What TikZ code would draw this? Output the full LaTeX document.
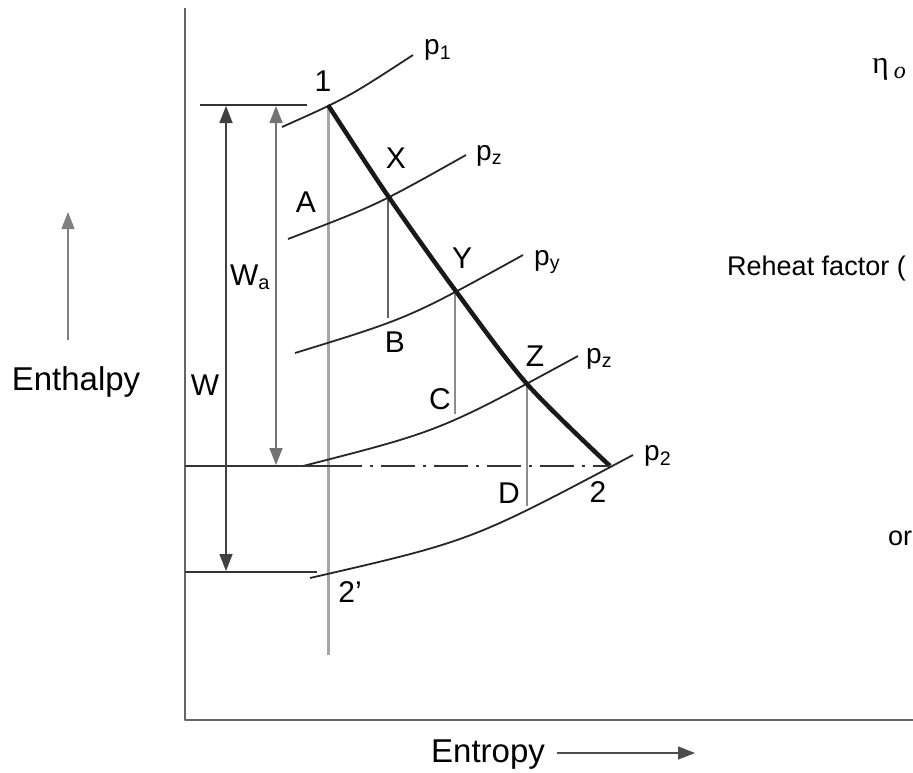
\documentclass[tikz,border=0pt]{standalone}
\usepackage{fontspec}
\setmainfont{Liberation Sans}
\newfontfamily\grk{Liberation Serif}
\usetikzlibrary{arrows.meta}

\begin{document}
\begin{tikzpicture}[x=1pt, y=-1pt, line join=round, >={Triangle[width=13pt,length=17pt]},
	isobar/.style={line width=1.8pt, black!85},
	drop/.style={line width=1.6pt, black!45},
	lbl/.style={inner sep=0pt, font=\fontsize{30}{32}\selectfont},
	plbl/.style={inner sep=0pt, anchor=west, font=\fontsize{28}{30}\selectfont},
	axlbl/.style={inner sep=0pt, font=\fontsize{33}{36}\selectfont}]
	\useasboundingbox (0,0) rectangle (913,772);
	\clip (0,0) rectangle (913,772);

	% Points of the expansion
	\coordinate (p1) at (328,105);
	\coordinate (x) at (388,196);
	\coordinate (y) at (455,290);
	\coordinate (z) at (527,384);
	\coordinate (p2) at (610,466);
	\coordinate (b) at (388,318);
	\coordinate (c) at (455,414);
	\coordinate (d) at (527,506);
	\coordinate (p2s) at (328,573);

	% Axes
	\draw[line width=2.5pt, black!60] (185,8) -- (185,720) -- (913,720);

	% Isentrope from 1
	\draw[line width=3pt, black!35] (p1) -- (328,655);

	% Isobars
	\draw[isobar] (282,127) .. controls (347,98) .. (413,55);
	\draw[isobar] (288,239) .. controls (377,205) .. (466,155);
	\draw[isobar] (295,353) .. controls (409,318) .. (523,255);
	\draw[isobar] (303,466) .. controls (440,431) .. (578,356);
	\draw[isobar] (310,578) .. controls (471,541) .. (633,455);

	% Drops at each stage
	\draw[drop, black!60] (x) -- (b);
	\draw[drop] (y) -- (c);
	\draw[drop] (z) -- (d);

	% Actual expansion 1-2
	\draw[line width=4.5pt, black!90] plot[smooth] coordinates {(p1) (x) (y) (z) (p2)};

	% Reference levels
	\draw[line width=1.6pt, black!80] (200,105) -- (307,105);
	\draw[line width=1.6pt, black!80] (185,466) -- (328,466);
	\draw[line width=1.6pt, black!80, dash pattern=on 34pt off 8pt on 3pt off 8pt] (328,466) -- (p2);
	\draw[line width=1.6pt, black!80] (185,572) -- (317,572);

	% Work arrows
	\draw[<->, line width=1.6pt, black!75] (226,106) -- (226,571);
	\draw[<->, line width=1.6pt, black!55] (276,106) -- (276,465);

	% Labels
	\node[lbl] (l1) at (323,81) {1};
	\node[lbl] (lx) at (396,158) {X};
	\node[lbl] (la) at (306,202) {A};
	\node[lbl] (ly) at (462,258) {Y};
	\node[lbl] (lb) at (395,342) {B};
	\node[lbl] (lz) at (535,356) {Z};
	\node[lbl] (lc) at (440,399) {C};
	\node[lbl] (ld) at (509,493) {D};
	\node[lbl] (l2) at (598,492) {2};
	\node[lbl] (l2s) at (350,592) {2'};
	\node[lbl] (lw) at (205,385) {W};
	\node[lbl] (lwa) at (250,277) {W\textsubscript{\fontsize{20}{22}\selectfont a}};

	\node[plbl] (lp1) at (424,50) {p\textsubscript{1}};
	\node[plbl] (lpx) at (476,156) {p\textsubscript{z}};
	\node[plbl] (lpy) at (534,262) {p\textsubscript{y}};
	\node[plbl] (lpz) at (586,359) {p\textsubscript{z}};
	\node[plbl] (lp2) at (644,456) {p\textsubscript{2}};

	% Axis names
	\node[axlbl] (enth) at (76,382) {Enthalpy};
	\draw[->, line width=1.6pt, black!50] (68,340) -- (68,212);
	\node[axlbl] (entr) at (488,755) {Entropy};
	\draw[->, line width=1.6pt, black!70] (557,753) -- (695,753);

	% Cut text on the right
	\node[inner sep=0pt, anchor=base west, font=\grk\fontsize{32}{34}\selectfont] (eta) at (872,73)
		{η\hspace{5pt}\raisebox{-5pt}{\itshape\fontsize{24}{26}\selectfont o}};
	\node[inner sep=0pt, anchor=base west, font=\fontsize{27}{30}\selectfont] (rh) at (727,275) {Reheat factor (};
	\node[inner sep=0pt, anchor=base west, font=\fontsize{27}{30}\selectfont] (or) at (888,545) {or};
\end{tikzpicture}
\end{document}
